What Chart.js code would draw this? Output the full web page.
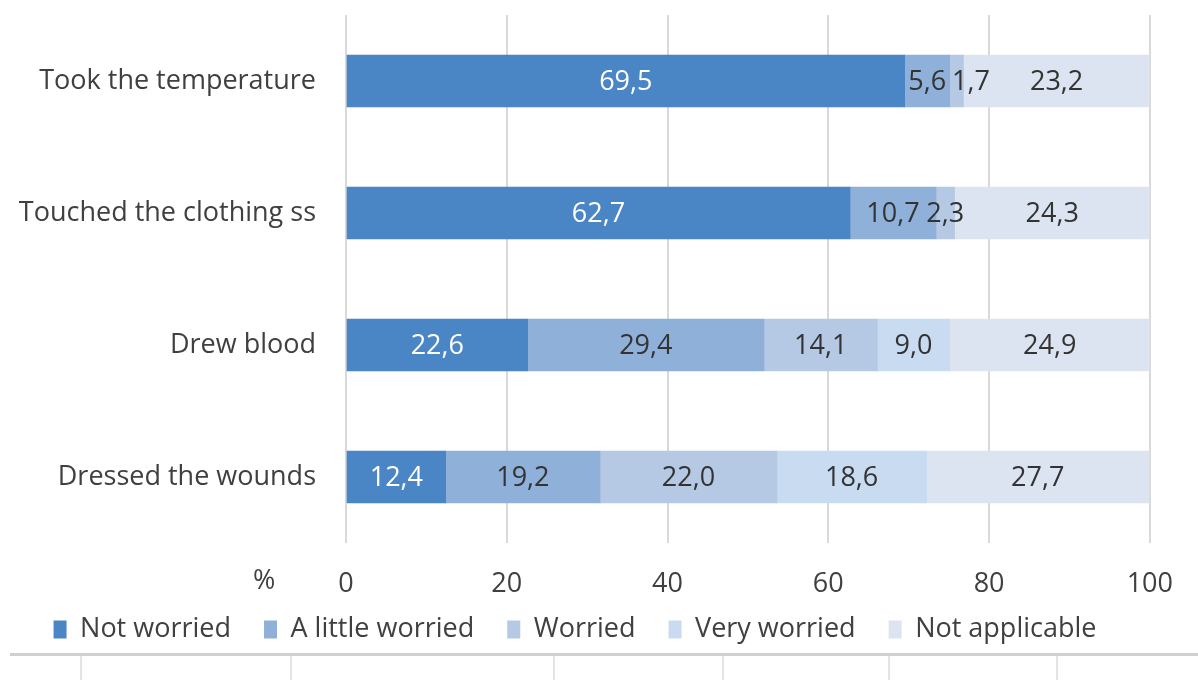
<!DOCTYPE html>
<html>
<head>
<meta charset="utf-8">
<script src="https://cdn.jsdelivr.net/npm/chart.js@4"></script>
<style>
  body { margin: 0; background: #fff; }
  #wrap { position: relative; width: 1198px; height: 680px; }
  #pct { position: absolute; left: 253px; top: 560px; font: 27px "Open Sans", sans-serif; color: #404040; }
  #rule { position: absolute; left: 10px; right: 0; top: 653px; height: 3px; background: #d0d0d0; }
  .tick { position: absolute; top: 656px; width: 2px; height: 24px; background: #e4e4e4; }
</style>
</head>
<body>
<div id="wrap">
  <canvas id="chart" width="1198" height="680"></canvas>
  <div id="pct">%</div>
  <div id="rule"></div>
  <div class="tick" style="left:80px"></div>
  <div class="tick" style="left:290px"></div>
  <div class="tick" style="left:553px"></div>
  <div class="tick" style="left:722px"></div>
  <div class="tick" style="left:888px"></div>
  <div class="tick" style="left:1056px"></div>
</div>
<script>
const categories = ['Took the temperature', 'Touched the clothing ss', 'Drew blood', 'Dressed the wounds'];
const seriesNames = ['Not worried', 'A little worried', 'Worried', 'Very worried', 'Not applicable'];
const notWorried = [69.5, 62.7, 22.6, 12.4];
const littleWorried = [5.6, 10.7, 29.4, 19.2];
const worried = [1.7, 2.3, 14.1, 22.0];
const veryWorried = [0, 0, 9.0, 18.6];
const notApplicable = [23.2, 24.3, 24.9, 27.7];
const xTicks = [0, 20, 40, 60, 80, 100];

const colors = ['#4a85c6', '#8fb0d8', '#b5c9e4', '#c8dbf1', '#dbe4f0'];
const labelColors = ['#ffffff', '#333333', '#333333', '#333333', '#333333'];
const FONT = '"Open Sans", sans-serif';

// value labels drawn in the middle of each segment
const segmentLabels = {
  id: 'segmentLabels',
  afterDatasetsDraw(chart) {
    const ctx = chart.ctx;
    ctx.save();
    ctx.font = '27px ' + FONT;
    ctx.textBaseline = 'middle';
    ctx.textAlign = 'left';
    chart.data.labels.forEach((lab, i) => {
      let prevRight = -Infinity;
      chart.data.datasets.forEach((ds, d) => {
        const v = ds.data[i];
        if (!v) return;
        const el = chart.getDatasetMeta(d).data[i];
        const txt = v.toFixed(1).replace('.', ',');
        const w = ctx.measureText(txt).width;
        let left = (el.x + el.base) / 2 - w / 2;
        if (left < prevRight + 6) left = prevRight + 6;
        ctx.fillStyle = labelColors[d];
        ctx.fillText(txt, left, el.y + 1);
        prevRight = left + w;
      });
    });
    ctx.restore();
  }
};

const allSeries = [notWorried, littleWorried, worried, veryWorried, notApplicable];

new Chart(document.getElementById('chart'), {
  type: 'bar',
  data: {
    labels: categories,
    datasets: seriesNames.map((name, k) => ({
      label: name,
      data: allSeries[k],
      backgroundColor: colors[k],
      borderWidth: 0,
      barThickness: 52
    }))
  },
  options: {
    indexAxis: 'y',
    responsive: false,
    animation: false,
    layout: { padding: { top: 15, right: 48, bottom: 27, left: 0 } },
    scales: {
      x: {
        stacked: true,
        min: 0,
        max: 100,
        afterBuildTicks: s => { s.ticks = xTicks.map(v => ({ value: v })); },
        afterFit: s => { s.height = 61; },
        grid: { color: '#d9d9d9', lineWidth: 2, drawTicks: false },
        border: { display: false },
        ticks: { padding: 25, color: '#404040', font: { family: FONT, size: 27 } }
      },
      y: {
        stacked: true,
        afterFit: s => { s.width = 346; s.paddingTop = 0; s.paddingBottom = 0; },
        grid: { display: false, drawTicks: false },
        border: { display: false },
        ticks: { padding: 30, color: '#404040', font: { family: FONT, size: 27 } }
      }
    },
    plugins: {
      legend: {
        position: 'bottom',
        labels: {
          boxWidth: 13,
          boxHeight: 18,
          padding: 12,
          color: '#404040',
          font: { family: FONT, size: 27 },
          // extra trailing spaces widen the gap between legend entries
          generateLabels: chart => Chart.defaults.plugins.legend.labels.generateLabels(chart)
            .map((l, k, arr) => ({ ...l, text: k < arr.length - 1 ? l.text + '   ' : l.text }))
        }
      },
      tooltip: { enabled: false }
    }
  },
  plugins: [segmentLabels]
});
</script>
</body>
</html>
